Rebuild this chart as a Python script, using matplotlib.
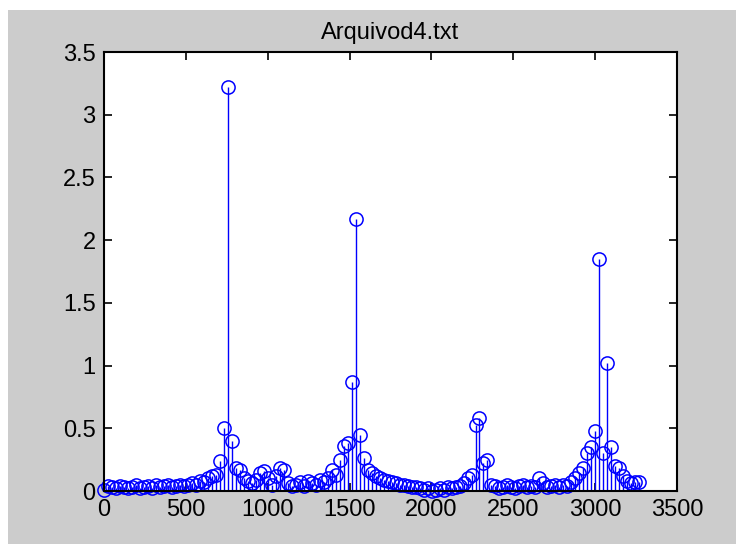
import matplotlib
matplotlib.use("Agg")
import matplotlib.pyplot as plt
import numpy as np
from matplotlib.patches import Rectangle

# spectrum bins: bin width (Hz) and magnitude per bin
df = 24.4
mag = [0.01, 0.04, 0.03, 0.02, 0.04, 0.03, 0.02, 0.03, 0.05, 0.02,
       0.03, 0.04, 0.02, 0.05, 0.03, 0.04, 0.05, 0.03, 0.04, 0.05,
       0.04, 0.05, 0.06, 0.05, 0.08, 0.07, 0.10, 0.12, 0.13, 0.24,
       0.50, 3.22, 0.40, 0.18, 0.17, 0.10, 0.08, 0.06, 0.09, 0.14,
       0.16, 0.10, 0.05, 0.12, 0.18, 0.17, 0.06, 0.04, 0.05, 0.07,
       0.04, 0.08, 0.06, 0.05, 0.09, 0.07, 0.10, 0.17, 0.13, 0.25,
       0.36, 0.38, 0.87, 2.17, 0.45, 0.26, 0.17, 0.14, 0.12, 0.10,
       0.09, 0.08, 0.07, 0.06, 0.05, 0.05, 0.04, 0.03, 0.03, 0.02,
       0.01, 0.02, 0.00, 0.01, 0.02, 0.01, 0.03, 0.02, 0.03, 0.04,
       0.06, 0.10, 0.13, 0.53, 0.58, 0.22, 0.25, 0.05, 0.04, 0.02,
       0.03, 0.05, 0.03, 0.02, 0.04, 0.05, 0.03, 0.04, 0.03, 0.10,
       0.06, 0.03, 0.04, 0.05, 0.03, 0.05, 0.04, 0.07, 0.10, 0.14,
       0.18, 0.30, 0.35, 0.48, 1.85, 0.30, 1.02, 0.35, 0.20, 0.18,
       0.12, 0.08, 0.06, 0.07, 0.07]
freq = np.arange(len(mag)) * df

plt.rcParams['font.family'] = ['Liberation Sans', 'DejaVu Sans']

fig = plt.figure(figsize=(7.36, 5.44), dpi=100, facecolor='white')
# grey window background with a thin white strip on top/left
fig.patches.append(Rectangle((8 / 736, 0), 1, 1 - 10 / 544, transform=fig.transFigure,
                             facecolor='#cccccc', edgecolor='none', zorder=-10))
ax = fig.add_axes([104 / 736, 1 - 491 / 544, 573 / 736, 439 / 544])
ax.set_facecolor('white')

markerline, stemlines, baseline = ax.stem(freq, mag, basefmt=' ')
plt.setp(stemlines, color='blue', linewidth=1)
plt.setp(markerline, color='blue', marker='o', markersize=9.5, markerfacecolor='none',
         markeredgewidth=1.1, clip_on=False)

ax.set_xlim(0, 3500)
ax.set_ylim(0, 3.5)
ax.set_xticks(np.arange(0, 3501, 500))
ax.set_yticks(np.arange(0, 3.51, 0.5))
ax.set_yticklabels(['0', '0.5', '1', '1.5', '2', '2.5', '3', '3.5'])
ax.tick_params(direction='in', length=6, width=1.2, labelsize=17, top=True, right=True, pad=6)
for s in ax.spines.values():
    s.set_linewidth(1.5)
ax.set_title('Arquivod4.txt', fontsize=17, pad=9)

fig.savefig('out.png', dpi=100, facecolor=fig.get_facecolor())
